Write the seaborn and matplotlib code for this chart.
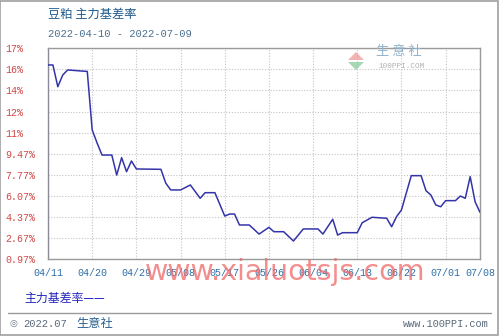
import matplotlib
matplotlib.use('Agg')
import matplotlib.pyplot as plt
from matplotlib.patches import Rectangle, Polygon
from matplotlib.lines import Line2D
import seaborn as sns
import pandas as pd

# ---- data ----
dates = ['2022-04-11', '2022-04-12', '2022-04-13', '2022-04-14', '2022-04-15',
         '2022-04-19', '2022-04-20', '2022-04-21', '2022-04-22', '2022-04-24',
         '2022-04-25', '2022-04-26', '2022-04-27', '2022-04-28', '2022-04-29',
         '2022-05-04', '2022-05-05', '2022-05-06', '2022-05-08', '2022-05-10',
         '2022-05-12', '2022-05-13', '2022-05-15', '2022-05-17', '2022-05-18',
         '2022-05-19', '2022-05-20', '2022-05-22', '2022-05-24', '2022-05-26',
         '2022-05-27', '2022-05-29', '2022-05-31', '2022-06-02', '2022-06-05',
         '2022-06-06', '2022-06-08', '2022-06-09', '2022-06-10', '2022-06-13',
         '2022-06-14', '2022-06-16', '2022-06-19', '2022-06-20', '2022-06-21',
         '2022-06-22', '2022-06-24', '2022-06-26', '2022-06-27', '2022-06-28',
         '2022-06-29', '2022-06-30', '2022-07-01', '2022-07-03', '2022-07-04',
         '2022-07-05', '2022-07-06', '2022-07-07', '2022-07-08']
values = [16.62, 16.62, 14.87, 15.81, 16.22,
          16.10, 11.39, 10.34, 9.37, 9.37,
          7.76, 9.16, 8.03, 8.89, 8.25,
          8.22, 7.10, 6.56, 6.56, 6.96,
          5.89, 6.34, 6.34, 4.46, 4.62,
          4.62, 3.74, 3.74, 3.01, 3.55,
          3.20, 3.20, 2.45, 3.42, 3.42,
          3.01, 4.20, 2.93, 3.12, 3.12,
          3.92, 4.36, 4.28, 3.60, 4.41,
          4.95, 7.71, 7.71, 6.50, 6.15,
          5.35, 5.21, 5.70, 5.70, 6.07,
          5.89, 7.63, 5.61, 4.76]

ytick_values = [0.97, 2.67, 4.37, 6.07, 7.77, 9.47, 11.17, 12.87, 14.57, 16.27, 17.97]
ytick_labels = ['0.97%', '2.67%', '4.37%', '6.07%', '7.77%', '9.47%',
                '11%', '12%', '14%', '16%', '17%']
xtick_dates = ['2022-04-11', '2022-04-20', '2022-04-29', '2022-05-08', '2022-05-17',
               '2022-05-26', '2022-06-04', '2022-06-13', '2022-06-22', '2022-07-01',
               '2022-07-08']
xtick_labels = ['04/11', '04/20', '04/29', '05/08', '05/17', '05/26',
                '06/04', '06/13', '06/22', '07/01', '07/08']

title = '豆粕 主力基差率'
subtitle = '2022-04-10 - 2022-07-09'
legend_label = '主力基差率——'

# ---- style ----
sns.set_style('white')
MONO = ['Liberation Mono', 'Noto Sans CJK SC', 'DejaVu Sans']
CJK = ['Noto Sans CJK SC', 'DejaVu Sans']
plt.rcParams['font.family'] = MONO

W, H = 499, 336
fig = plt.figure(figsize=(W / 100, H / 100), dpi=100)
fig.patch.set_facecolor('white')

def fx(px):
    return px / W

def fy(py):
    return 1 - py / H

ax = fig.add_axes([fx(48), fy(259.4), 432 / W, 211.2 / H])

df = pd.DataFrame({'date': pd.to_datetime(dates), 'value': values})
sns.lineplot(data=df, x='date', y='value', ax=ax, color='#3434aa', lw=1.1, zorder=3)

ax.set_xlim(pd.Timestamp('2022-04-11'), pd.Timestamp('2022-07-08'))
ax.set_ylim(ytick_values[0], ytick_values[-1])
ax.set_xticks(pd.to_datetime(xtick_dates))
ax.set_xticklabels(xtick_labels)
ax.set_yticks(ytick_values)
ax.set_yticklabels(ytick_labels)
ax.set_xlabel('')
ax.set_ylabel('')

ax.grid(True, linestyle=(0, (1, 1.5)), color='#c4c4c4', lw=0.8)
ax.tick_params(axis='x', length=0, pad=6, labelsize=7.2, labelcolor='#2f6fa8')
ax.tick_params(axis='y', length=0, pad=31, labelsize=7.2, labelcolor='#d04848')
for lab in ax.get_yticklabels():
    lab.set_horizontalalignment('left')
for name, sp in ax.spines.items():
    sp.set_visible(True)
    sp.set_color('#9a9a9a')
    sp.set_linewidth(1.0)
ax.spines['left'].set_color('#8a8a9a')

# logo inside plot
fig.add_artist(Polygon([[fx(348), fy(60)], [fx(356), fy(52)], [fx(364), fy(60)]],
                       closed=True, transform=fig.transFigure, fc='#f0a0a0', ec='none', alpha=0.8))
fig.add_artist(Polygon([[fx(348), fy(62)], [fx(356), fy(70)], [fx(364), fy(62)]],
                       closed=True, transform=fig.transFigure, fc='#90d0a0', ec='none', alpha=0.8))
fig.text(fx(376), fy(52), '生 意 社', family=CJK, fontsize=9.5, color='#8fb3cc',
         ha='left', va='center')
fig.text(fx(378), fy(67), '100PPI.COM', family=MONO, fontsize=5.5, color='#b0b0b0',
         ha='left', va='center')

# titles
fig.text(fx(48), fy(14), title, family=CJK, fontsize=8.8, color='#1f5a8c',
         ha='left', va='center')
fig.text(fx(48), fy(34), subtitle, family=MONO, fontsize=7.6, color='#4d7090',
         ha='left', va='center')

# watermark
fig.text(fx(285), fy(280), 'www.xialuotsjs.com', family=['DejaVu Sans'], fontsize=20.5,
         color='#f06868', alpha=0.75, ha='center', va='baseline', zorder=10)

# legend label
fig.text(fx(24), fy(298), legend_label, family=CJK, fontsize=8.6, color='#2424c0',
         ha='left', va='center')

# footer
fig.add_artist(Line2D([fx(8), fx(491)], [fy(313), fy(313)], transform=fig.transFigure,
                      color='#9a9a9a', lw=1.0))
fig.text(fx(13), fy(323.5), '◎', family=['DejaVu Sans'], fontsize=6.5, color='#6a7a8a',
         ha='center', va='center')
fig.text(fx(23), fy(324), '2022.07', family=MONO, fontsize=7.6, color='#5a6a7a',
         ha='left', va='center')
fig.text(fx(76), fy(323), '生意社', family=CJK, fontsize=8.8, color='#2a6090',
         ha='left', va='center')
fig.text(fx(489), fy(324), 'www.100PPI.com', family=MONO, fontsize=7.4, color='#5a6a7a',
         ha='right', va='center')

# outer border
fig.add_artist(Rectangle((0.001, 0.0015), 0.997, 0.996, transform=fig.transFigure,
                         fill=False, ec='#a0a0a0', lw=1.2))

fig.savefig('out.png', dpi=100, facecolor='white')
